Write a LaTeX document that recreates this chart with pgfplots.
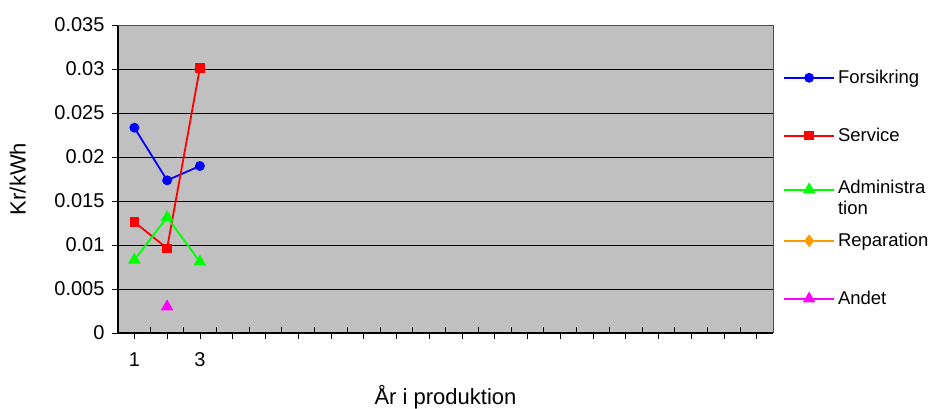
\documentclass[border=0pt]{standalone}
\usepackage{pgfplots}
\pgfplotsset{compat=1.18}
\usepackage{fontspec}
\setmainfont{Liberation Sans}
\definecolor{bgray}{HTML}{C0C0C0}
\definecolor{cblue}{HTML}{0000FF}
\definecolor{cred}{HTML}{FF0000}
\definecolor{cgreen}{HTML}{00FF00}
\definecolor{corange}{HTML}{FF9900}
\definecolor{cmag}{HTML}{FF00FF}
\begin{document}
\begin{tikzpicture}[x=1pt,y=1pt]
\useasboundingbox (-118,-75) rectangle (812,333);
\begin{axis}[
  at={(0,0)}, anchor=south west,
  scale only axis, width=655pt, height=308pt,
  xmin=0.5, xmax=20.5, ymin=0, ymax=0.035,
  axis background/.style={fill=bgray},
  axis lines*=left,
  axis line style={line width=1.6pt, black},
  tick align=outside,
  major tick length=6pt,
  tick style={black, line width=0.6pt},
  xtick={1,2,...,20},
  xticklabels={1,,3},
  extra x ticks={1.5,2.5,...,19.5},
  extra x tick labels={},
  extra x tick style={tick align=inside, major tick length=6pt},
  scaled y ticks=false,
  ytick={0,0.005,0.01,0.015,0.02,0.025,0.03,0.035},
  yticklabels={0,0.005,0.01,0.015,0.02,0.025,0.03,0.035},
  /pgf/number format/assume math mode=true,
  ticklabel style={font=\fontsize{20}{23}\selectfont},
  xticklabel style={yshift=-10pt},
  yticklabel style={xshift=-4pt},
  ymajorgrids,
  grid style={black, line width=0.7pt},
  xlabel={År i produktion},
  ylabel={Kr/kWh},
  label style={font=\fontsize{22}{25}\selectfont},
  xlabel style={at={(axis description cs:0.5,0)}, anchor=base, yshift=-71pt},
  ylabel style={at={(axis description cs:-0.153,0.5)}, anchor=center, rotate=0},
  clip=false,
  legend cell align=left,
  legend style={at={(axis description cs:1.0153,0.86)}, anchor=north west,
    draw=none, fill=none, inner sep=0pt, row sep=39pt,
    font=\fontsize{18.5}{21}\selectfont,
    nodes={inner xsep=3pt}},
  legend image code/.code={%
    \draw[mark repeat=2,mark phase=2] plot coordinates {(0pt,0pt) (25pt,0pt) (50pt,0pt)};},
]
\addplot[forget plot, cblue, line width=1.8pt, mark=*, mark size=4pt, mark options={solid, fill=cblue}]
  coordinates {(1,0.02333) (2,0.01735) (3,0.01898)};
\addplot[forget plot, cred, line width=1.8pt, mark=square*, mark size=3.8pt, mark options={solid, fill=cred}]
  coordinates {(1,0.01261) (2,0.00962) (3,0.03011)};
\addplot[forget plot, cgreen, line width=1.8pt, mark=triangle*, mark size=5.5pt, mark options={solid, fill=cgreen}]
  coordinates {(1,0.0083) (2,0.01315) (3,0.0081)};
\addplot[forget plot, cmag, line width=1.8pt, mark=triangle*, mark size=5.5pt, mark options={solid, fill=cmag}]
  coordinates {(2,0.00299)};
\addlegendimage{cblue, line width=1.8pt, mark=*, mark size=4pt, mark options={solid, fill=cblue}}
\addlegendentry{Forsikring}
\addlegendimage{cred, line width=1.8pt, mark=square*, mark size=3.8pt, mark options={solid, fill=cred}}
\addlegendentry{Service}
\addlegendimage{cgreen, line width=1.8pt, mark=triangle*, mark size=5.5pt, mark options={solid, fill=cgreen}}
\addlegendentry{\smash{\raisebox{-5pt}{\begin{tabular}[t]{@{}l@{}}Administra\\tion\end{tabular}}}}
\addlegendimage{corange, line width=1.8pt, mark=diamond*, mark size=5pt, mark options={solid, fill=corange}}
\addlegendentry{Reparation}
\addlegendimage{cmag, line width=1.8pt, mark=triangle*, mark size=5.5pt, mark options={solid, fill=cmag}}
\addlegendentry{Andet}
\end{axis}
\draw[black!70, line width=1pt] (0,308) -- (655,308) -- (655,0);
\end{tikzpicture}
\end{document}
